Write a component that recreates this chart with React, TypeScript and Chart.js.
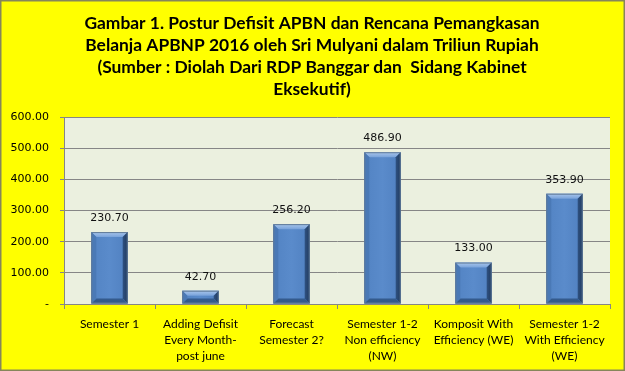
import React, { useEffect, useRef } from "react";
import { Chart, registerables } from "chart.js";

Chart.register(...registerables);

const titleLines = [
  "Gambar 1. Postur Defisit APBN dan Rencana Pemangkasan",
  "Belanja APBNP 2016 oleh Sri Mulyani dalam Triliun Rupiah",
  "(Sumber : Diolah Dari RDP Banggar dan  Sidang Kabinet",
  "Eksekutif)",
];

const categories: string[][] = [
  ["Semester 1"],
  ["Adding Defisit", "Every Month-", "post june"],
  ["Forecast", "Semester 2?"],
  ["Semester 1-2", "Non efficiency", "(NW)"],
  ["Komposit With", "Efficiency (WE)"],
  ["Semester 1-2", "With Efficiency", "(WE)"],
];

const values = [230.7, 42.7, 256.2, 486.9, 133.0, 353.9];

const yTicks = [0, 100, 200, 300, 400, 500, 600];

const fmt = (v: number) =>
  v === 0 ? "-" : v.toFixed(2).replace(/\B(?=(\d{3})+(?!\d))/g, ",");

const bgPlugin = {
  id: "bgPlugin",
  beforeDraw(chart: any) {
    const { ctx, width, height, chartArea } = chart;
    ctx.save();
    ctx.fillStyle = "#FFFF00";
    ctx.fillRect(0, 0, width, height);
    ctx.fillStyle = "#EBF0DF";
    ctx.fillRect(
      chartArea.left,
      chartArea.top,
      chartArea.right - chartArea.left,
      chartArea.bottom - chartArea.top
    );
    ctx.strokeStyle = "#86865A";
    ctx.lineWidth = 1.5;
    ctx.strokeRect(0.75, 0.75, width - 1.5, height - 1.5);
    ctx.fillStyle = "#000";
    ctx.font = "bold 17.4px Lato";
    ctx.textAlign = "center";
    ctx.textBaseline = "middle";
    const ys = [23, 45, 67, 89];
    titleLines.forEach((t, i) => ctx.fillText(t, 312, ys[i]));
    ctx.restore();
  },
};

const bevelPlugin = {
  id: "bevelPlugin",
  afterDatasetsDraw(chart: any) {
    const { ctx } = chart;
    const meta = chart.getDatasetMeta(0);
    ctx.save();
    meta.data.forEach((bar: any, i: number) => {
      const w = bar.width;
      const L = bar.x - w / 2;
      const R = bar.x + w / 2;
      const T = bar.y;
      const B = bar.base;
      const b = Math.min(5, (B - T) / 2);
      const g = ctx.createLinearGradient(L, 0, R, 0);
      g.addColorStop(0, "#5283C3");
      g.addColorStop(0.5, "#5A8BCB");
      g.addColorStop(1, "#5080C0");
      ctx.fillStyle = g;
      ctx.fillRect(L, T, w, B - T);
      const poly = (pts: number[][], fill: any) => {
        ctx.beginPath();
        ctx.moveTo(pts[0][0], pts[0][1]);
        for (let k = 1; k < pts.length; k++) ctx.lineTo(pts[k][0], pts[k][1]);
        ctx.closePath();
        ctx.fillStyle = fill;
        ctx.fill();
      };
      const tg = ctx.createLinearGradient(0, T, 0, T + b);
      tg.addColorStop(0, "#A9C6EC");
      tg.addColorStop(1, "#78A2DA");
      poly([[L, T], [R, T], [R - b, T + b], [L + b, T + b]], tg);
      const rg = ctx.createLinearGradient(R - b, 0, R, 0);
      rg.addColorStop(0, "#2F5282");
      rg.addColorStop(1, "#213A5E");
      poly([[R, T], [R, B], [R - b, B - b], [R - b, T + b]], rg);
      poly([[L, B], [R, B], [R - b, B - b], [L + b, B - b]], "#345A8C");
      poly([[L, T], [L + b, T + b], [L + b, B - b], [L, B]], "#4A79B6");
      ctx.strokeStyle = "#5E7896";
      ctx.lineWidth = 1;
      ctx.strokeRect(L + 0.5, T + 0.5, w - 1, B - T - 1);
      ctx.fillStyle = "#111";
      ctx.font = "11px 'DejaVu Sans'";
      ctx.textAlign = "center";
      ctx.textBaseline = "middle";
      ctx.fillText(fmt(values[i]), bar.x, T - 14);
    });
    ctx.restore();
  },
};

export default function App() {
  const ref = useRef<HTMLCanvasElement>(null);
  useEffect(() => {
    document.body.style.margin = "0";
    const chart = new Chart(ref.current!, {
      type: "bar",
      data: {
        labels: categories,
        datasets: [
          {
            data: values,
            backgroundColor: "rgba(0,0,0,0)",
            barPercentage: 0.4,
            categoryPercentage: 1,
          },
        ],
      },
      options: {
        responsive: false,
        animation: false,
        devicePixelRatio: 1,
        layout: { padding: { top: 117, right: 15, left: 0, bottom: 0 } },
        plugins: {
          legend: { display: false },
          title: { display: false },
          tooltip: { enabled: false },
        },
        scales: {
          x: {
            afterFit: (s: any) => {
              s.height = 67;
            },
            grid: {
              offset: true,
              drawOnChartArea: false,
              tickLength: 5,
              color: "#868686",
            },
            border: { color: "#868686" },
            ticks: {
              color: "#000",
              padding: 7,
              maxRotation: 0,
              autoSkip: false,
              font: { family: "Lato", size: 12, lineHeight: 1.33 },
            },
          },
          y: {
            min: 0,
            max: 600,
            afterFit: (s: any) => {
              s.width = 64;
            },
            afterBuildTicks: (s: any) => {
              s.ticks = yTicks.map((v) => ({ value: v }));
            },
            grid: { color: "#868686", tickLength: 4 },
            border: { color: "#868686" },
            ticks: {
              color: "#000",
              padding: 11,
              font: { family: "DejaVu Sans", size: 11 },
              callback: (v: any) => fmt(Number(v)),
            },
          },
        },
      },
      plugins: [bgPlugin, bevelPlugin],
    });
    return () => chart.destroy();
  }, []);
  return <canvas ref={ref} width={625} height={371} style={{ display: "block" }} />;
}
